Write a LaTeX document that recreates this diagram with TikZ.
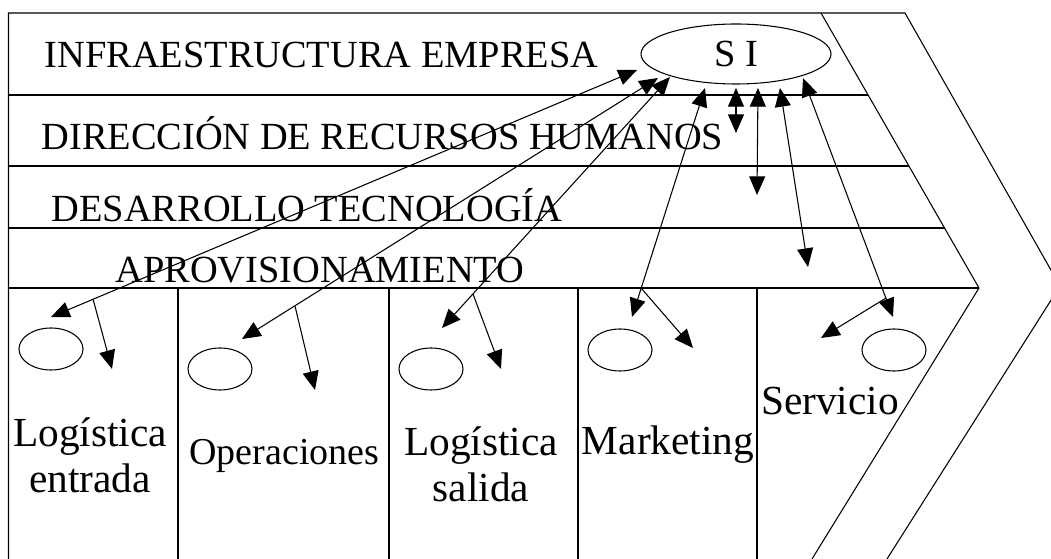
\documentclass[tikz,border=0pt]{standalone}
\usepackage{fontspec}
\setmainfont{Liberation Serif}
\usepackage{tikz}
\usetikzlibrary{arrows.meta, shapes.geometric}

\begin{document}
\begin{tikzpicture}[x=0.75pt,y=0.75pt,yscale=-1,xscale=1,
  line width=0.8pt,
  flecha/.style={-{Triangle[length=14pt,width=12pt]}},
  dflecha/.style={{Triangle[length=14pt,width=12pt]}-{Triangle[length=14pt,width=12pt]}},
  fila/.style={anchor=base west,inner sep=0pt,font=\fontsize{28.8}{30}\selectfont},
  actividad/.style={anchor=base,inner sep=0pt,align=center,font=\fontsize{31}{34.5}\selectfont},
  ovalo/.style={draw,ellipse,inner sep=0pt,minimum width=48pt,minimum height=31.5pt}]
\useasboundingbox (0,0) rectangle (1051,559);
\clip (0,0) rectangle (1051,559);

%Shape: Chevron outer
\draw (8.5,559) -- (8.5,13) -- (905,13) -- (1060,286) -- (887,559) ;
%Shape: Chevron inner
\draw (821,13) -- (979,288) -- (812,559) ;
%Straight Lines [rows]
\draw (8.5,95) -- (868,95) ;
\draw (8.5,166) -- (909,166) ;
\draw (8.5,228) -- (944.5,228) ;
\draw (8.5,288) -- (979,288) ;
%Straight Lines [columns]
\draw (178,288) -- (178,559) ;
\draw (389,288) -- (389,559) ;
\draw (578,288) -- (578,559) ;
\draw (757,288) -- (757,559) ;

%Shape: Ellipse [SI]
\draw (736,54) node [draw,ellipse,inner sep=0pt,minimum width=142.5pt,minimum height=45pt,font=\fontsize{28.8}{30}\selectfont] (si) {S I};
%Shape: Ellipse [activities]
\draw (51,349) node [ovalo] (ovent) {};
\draw (220,369) node [ovalo] (ovope) {};
\draw (431,369) node [ovalo] (ovsal) {};
\draw (620,350) node [ovalo] (ovmkt) {};
\draw (894,350) node [ovalo] (ovser) {};

% Text Node
\draw (44,68) node [fila] (infra) {INFRAESTRUCTURA EMPRESA};
% Text Node
\draw (41,150) node [fila] (rrhh) {DIRECCIÓN DE RECURSOS HUMANOS};
% Text Node
\draw (51,222) node [fila] (tecno) {DESARROLLO TECNOLOGÍA};
% Text Node
\draw (115,283) node [fila] (aprov) {APROVISIONAMIENTO};
% Text Node
\draw (90,493) node [actividad] (logent) {Logística\\entrada};
% Text Node
\draw (284.5,465) node [actividad,font=\fontsize{28.5}{30}\selectfont] (ope) {Operaciones};
% Text Node
\draw (481,502) node [actividad] (logsal) {Logística\\salida};
% Text Node
\draw (668,455) node [actividad] (mkt) {Marketing};
% Text Node
\draw (830,415) node [actividad] (serv) {Servicio};

%Arrow ends
\coordinate (si1) at (637,70);
\coordinate (si2) at (658,78);
\coordinate (si3) at (670,77);
\coordinate (si4) at (705,88);
\coordinate (si5) at (736,88);
\coordinate (si6) at (758,88);
\coordinate (si7) at (780,88);
\coordinate (si8) at (803,78);
\coordinate (ent1) at (51,317);
\coordinate (ent2) at (93,299);
\coordinate (ent3) at (112,369);
\coordinate (ope1) at (242,339);
\coordinate (ope2) at (295,306);
\coordinate (ope3) at (315,390);
\coordinate (sal1) at (442,328);
\coordinate (sal2) at (473,294);
\coordinate (sal3) at (501,369);
\coordinate (mkt1) at (632,317);
\coordinate (mkt2) at (641,288);
\coordinate (mkt3) at (693,348);
\coordinate (rh1) at (736,133);
\coordinate (tec1) at (757,195);
\coordinate (apr1) at (808,267);
\coordinate (ser1) at (893,317);
\coordinate (ser2) at (886,298);
\coordinate (ser3) at (821,338);

%Straight Lines [arrows]
\draw [dflecha] (ent1) -- (si1) ;
\draw [flecha] (ent2) -- (ent3) ;
\draw [dflecha] (ope1) -- (si2) ;
\draw [flecha] (ope2) -- (ope3) ;
\draw [dflecha] (sal1) -- (si3) ;
\draw [flecha] (sal2) -- (sal3) ;
\draw [dflecha] (mkt1) -- (si4) ;
\draw [flecha] (mkt2) -- (mkt3) ;
\draw [dflecha] (rh1) -- (si5) ;
\draw [dflecha] (tec1) -- (si6) ;
\draw [dflecha] (apr1) -- (si7) ;
\draw [dflecha] (ser1) -- (si8) ;
\draw [flecha] (ser2) -- (ser3) ;

\end{tikzpicture}
\end{document}
